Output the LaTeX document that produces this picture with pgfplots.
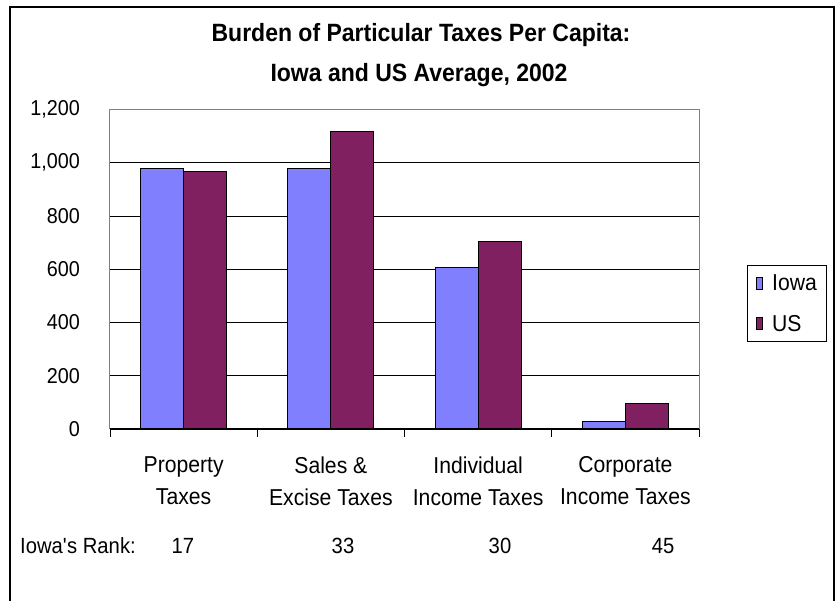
\documentclass[border=0pt]{standalone}
\usepackage{fontspec}
\setmainfont[FakeStretch=0.92]{Liberation Sans}
\usepackage{pgfplots}
\pgfplotsset{compat=1.18}
\definecolor{iowa}{RGB}{128,128,255}
\definecolor{us}{RGB}{128,32,96}
\pgfplotsset{smallbox/.style={legend image code/.code={\draw[##1,line width=0.8pt] (0pt,-6pt) rectangle (6pt,6pt);}}}
\begin{document}
\begin{tikzpicture}[x=1pt,y=1pt]
\begin{axis}[
  at={(0,0)}, anchor=south west,
  scale only axis, width=589pt, height=319.5pt,
  ybar=0pt, bar width=43pt,
  xmin=-0.5, xmax=3.5, ymin=0, ymax=1200,
  ytick={0,200,...,1200},
  xtick={0,1,2,3},
  xtick pos=bottom,
  xticklabels={{Property\\Taxes},{Sales \&\\Excise Taxes},{Individual\\Income Taxes},{Corporate\\Income Taxes}},
  xtick style={draw=none},
  extra x ticks={-0.5,0.5,1.5,2.5,3.5},
  extra x tick labels={},
  extra x tick style={xtick style={draw=black,line width=0.8pt}, tick align=outside, major tick length=8pt, grid=none},
  ytick style={draw=none},
  ymajorgrids, grid style={black, line width=0.75pt},
  axis line style={gray, line width=1pt},
  yticklabel style={font=\fontsize{21.5}{24}\selectfont, anchor=east, inner sep=0pt, xshift=-30pt},
  xticklabel style={font=\fontsize{23}{32}\selectfont, align=center, anchor=north, inner sep=0pt, yshift=-23pt},
  /pgf/number format/.cd, 1000 sep={,}, assume math mode=true, /pgfplots/.cd,
  legend style={at={(rel axis cs:1.0815,0.2723)}, anchor=south west, draw=black, line width=0.8pt,
    font=\fontsize{23}{25}\selectfont, inner xsep=9pt, inner ysep=9pt, row sep=23pt, column sep=0pt,
    nodes={inner sep=0pt, anchor=west}},
  legend cell align=left,
]
\addplot[fill=iowa, draw=black, line width=0.8pt, smallbox] coordinates {(0,979) (1,979) (2,607) (3,27)};
\addplot[fill=us, draw=black, line width=0.8pt, smallbox] coordinates {(0,968) (1,1117) (2,703) (3,96)};
\legend{\hspace{9pt}Iowa,\hspace{9pt}US}
\end{axis}
\draw[black, line width=1pt] (0,0) -- (589,0);
\node[font=\bfseries\fontsize{25}{28}\selectfont, anchor=base] at (311,387.5) {Burden of Particular Taxes Per Capita:};
\node[font=\bfseries\fontsize{25}{28}\selectfont, anchor=base] at (309,347.5) {Iowa and US Average, 2002};
\node[font=\fontsize{22}{24}\selectfont, anchor=base west, inner sep=0pt] at (-90,-125) {Iowa\textquotesingle s Rank:};
\node[font=\fontsize{22}{24}\selectfont, anchor=base, inner sep=0pt] at (73,-125) {17};
\node[font=\fontsize{22}{24}\selectfont, anchor=base, inner sep=0pt] at (233,-125) {33};
\node[font=\fontsize{22}{24}\selectfont, anchor=base, inner sep=0pt] at (390,-125) {30};
\node[font=\fontsize{22}{24}\selectfont, anchor=base, inner sep=0pt] at (553,-125) {45};
\draw[black, line width=2pt] (-100,-180) -- (-100,422) -- (723.7,422) -- (723.7,-180);
\pgfresetboundingbox
\path[use as bounding box] (-110,-172) rectangle (725,429);
\end{tikzpicture}
\end{document}
